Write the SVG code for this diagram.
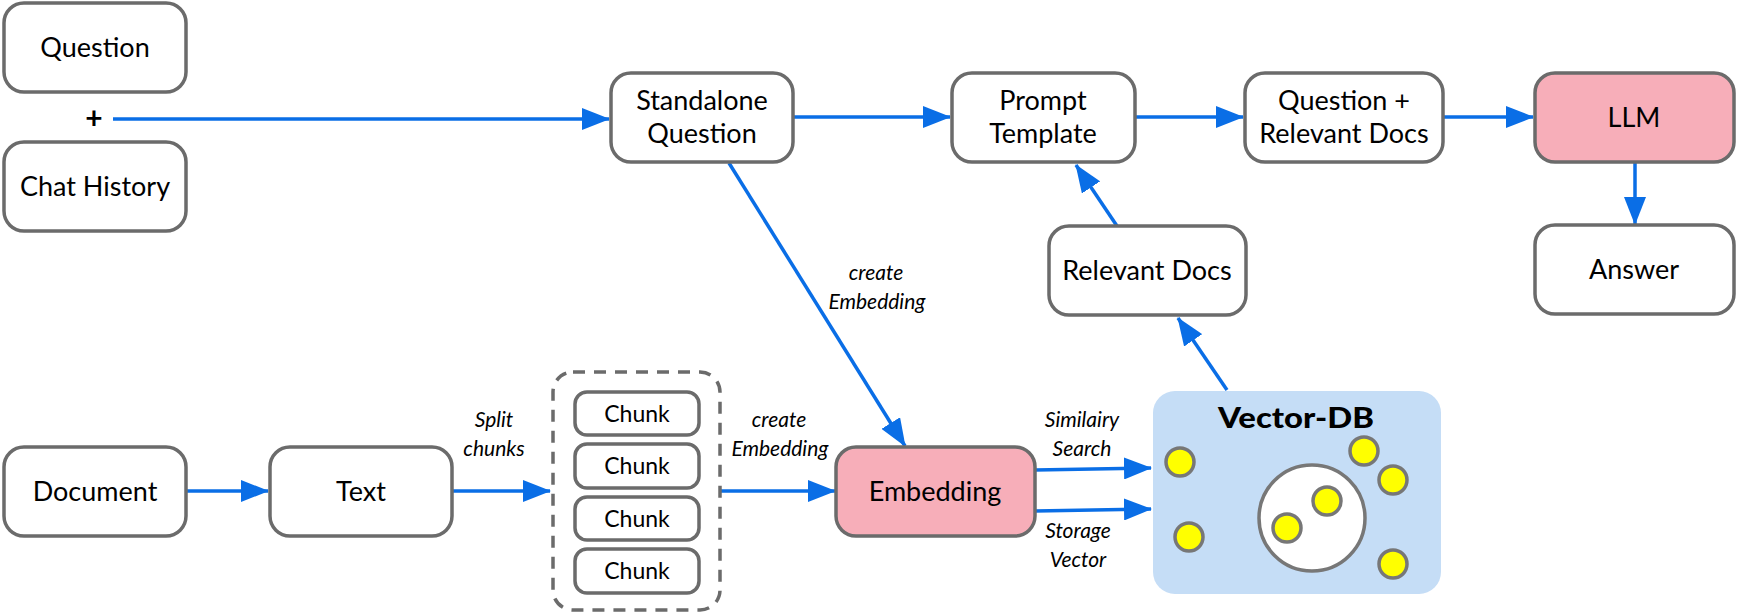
<svg xmlns="http://www.w3.org/2000/svg" width="1737" height="614" viewBox="0 0 1737 614">
<defs>
<style>
.box{fill:#ffffff;stroke:#6b6b6b;stroke-width:3.5}
.pink{fill:#f7aeb9;stroke:#6b6b6b;stroke-width:3.5}
.chunk{fill:#ffffff;stroke:#6b6b6b;stroke-width:3.5}
.dash{fill:none;stroke:#6b6b6b;stroke-width:3.5;stroke-dasharray:12 9}
.t{font-family:Lato,"Liberation Sans",sans-serif;font-size:27px;fill:#000;text-anchor:middle}
.tc{font-family:Lato,"Liberation Sans",sans-serif;font-size:23px;fill:#000;text-anchor:middle}
.lbl{font-family:Lato,"Liberation Sans",sans-serif;font-size:21px;font-style:italic;fill:#000;text-anchor:middle}
.vt{font-family:Lato,"Liberation Sans",sans-serif;font-size:29px;font-weight:900;fill:#000;text-anchor:middle}
.con{fill:none;stroke:#0a6ee6;stroke-width:3.5;marker-end:url(#ah)}
.dot{fill:#ffff00;stroke:#777777;stroke-width:3.5}
</style>
<marker id="ah" markerUnits="userSpaceOnUse" markerWidth="28" markerHeight="22" refX="27" refY="11" orient="auto">
<path d="M0,0 L28,11 L0,22 z" fill="#0a6ee6"/>
</marker>
</defs>
<rect width="1737" height="614" fill="#ffffff"/>

<g id="connectors">
<line class="con" x1="113" y1="119" x2="609" y2="119"/>
<line class="con" x1="793" y1="117" x2="950" y2="117"/>
<line class="con" x1="1135" y1="117" x2="1243" y2="117"/>
<line class="con" x1="1443" y1="117" x2="1533" y2="117"/>
<line class="con" x1="1635" y1="162" x2="1635" y2="224"/>
<line class="con" x1="1117" y1="226" x2="1076" y2="165"/>
<line class="con" x1="729" y1="163" x2="905" y2="446"/>
<line class="con" x1="186" y1="491" x2="268" y2="491"/>
<line class="con" x1="452" y1="491" x2="550" y2="491"/>
<line class="con" x1="720" y1="491" x2="835" y2="491"/>
<line class="con" x1="1035" y1="470" x2="1151" y2="468"/>
<line class="con" x1="1035" y1="511" x2="1151" y2="509"/>
<line class="con" x1="1227" y1="390" x2="1178" y2="318"/>
</g>

<g id="labels">
<text class="t" x="94" y="129" style="font-weight:700;font-size:30px">+</text>
<text class="lbl" x="876" y="280">create</text>
<text class="lbl" x="877" y="309">Embedding</text>
<text class="lbl" x="494" y="427">Split</text>
<text class="lbl" x="494" y="456">chunks</text>
<text class="lbl" x="779" y="427">create</text>
<text class="lbl" x="780" y="456">Embedding</text>
<text class="lbl" x="1082" y="427">Similairy</text>
<text class="lbl" x="1082" y="456">Search</text>
<text class="lbl" x="1078" y="538">Storage</text>
<text class="lbl" x="1078" y="567">Vector</text>
</g>

<g id="node-question">
<rect class="box" x="4" y="3" width="182" height="89" rx="20"/>
<text class="t" x="95" y="57">Question</text>
</g>
<g id="node-chat-history">
<rect class="box" x="4" y="142" width="182" height="89" rx="20"/>
<text class="t" x="95" y="196">Chat History</text>
</g>
<g id="node-standalone">
<rect class="box" x="611" y="73" width="182" height="89" rx="20"/>
<text class="t" x="702" y="110">Standalone</text>
<text class="t" x="702" y="143">Question</text>
</g>
<g id="node-prompt">
<rect class="box" x="952" y="73" width="183" height="89" rx="20"/>
<text class="t" x="1043" y="110">Prompt</text>
<text class="t" x="1043" y="143">Template</text>
</g>
<g id="node-question-docs">
<rect class="box" x="1245" y="73" width="198" height="89" rx="20"/>
<text class="t" x="1344" y="110">Question +</text>
<text class="t" x="1344" y="143">Relevant Docs</text>
</g>
<g id="node-llm">
<rect class="pink" x="1535" y="73" width="199" height="89" rx="20"/>
<text class="t" x="1634" y="127">LLM</text>
</g>
<g id="node-answer">
<rect class="box" x="1535" y="225" width="199" height="89" rx="20"/>
<text class="t" x="1634" y="279">Answer</text>
</g>
<g id="node-relevant-docs">
<rect class="box" x="1049" y="226" width="197" height="89" rx="20"/>
<text class="t" x="1147" y="280">Relevant Docs</text>
</g>
<g id="node-document">
<rect class="box" x="4" y="447" width="182" height="89" rx="20"/>
<text class="t" x="95" y="501">Document</text>
</g>
<g id="node-text">
<rect class="box" x="270" y="447" width="182" height="89" rx="20"/>
<text class="t" x="361" y="501">Text</text>
</g>
<g id="node-chunks">
<rect class="dash" x="553" y="372" width="167" height="238" rx="20"/>
<rect class="chunk" x="575" y="392" width="124" height="43" rx="12"/>
<text class="tc" x="637" y="422">Chunk</text>
<rect class="chunk" x="575" y="444" width="124" height="44" rx="12"/>
<text class="tc" x="637" y="474">Chunk</text>
<rect class="chunk" x="575" y="497" width="124" height="43" rx="12"/>
<text class="tc" x="637" y="527">Chunk</text>
<rect class="chunk" x="575" y="549" width="124" height="44" rx="12"/>
<text class="tc" x="637" y="579">Chunk</text>
</g>
<g id="node-embedding">
<rect class="pink" x="836" y="447" width="199" height="89" rx="20"/>
<text class="t" x="935" y="501">Embedding</text>
</g>
<g id="node-vector-db">
<rect x="1153" y="391" width="288" height="203" rx="22" fill="#c5ddf6"/>
<text class="vt" x="1296" y="428" textLength="156" lengthAdjust="spacingAndGlyphs">Vector-DB</text>
<circle cx="1312" cy="518" r="53" fill="#ffffff" stroke="#777777" stroke-width="3.5"/>
<circle class="dot" cx="1180" cy="462" r="14"/>
<circle class="dot" cx="1364" cy="451" r="14"/>
<circle class="dot" cx="1393" cy="480" r="14"/>
<circle class="dot" cx="1189" cy="537" r="14"/>
<circle class="dot" cx="1327" cy="501" r="14"/>
<circle class="dot" cx="1287" cy="528" r="14"/>
<circle class="dot" cx="1393" cy="564" r="14"/>
</g>
</svg>
